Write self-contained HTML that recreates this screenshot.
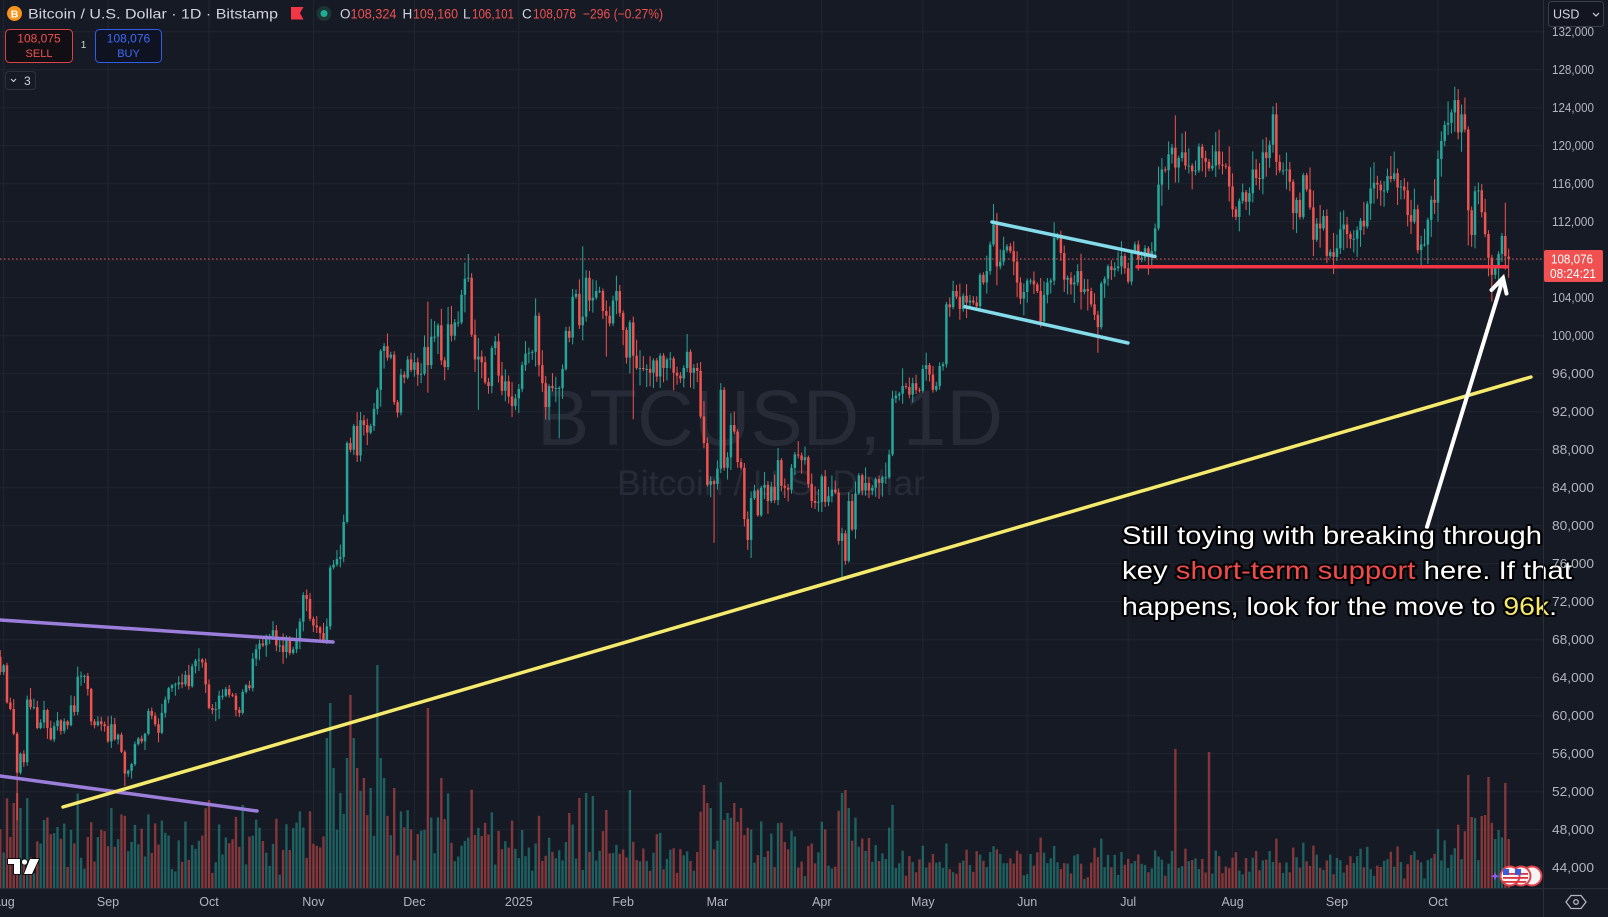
<!DOCTYPE html>
<html><head><meta charset="utf-8">
<style>
html,body{margin:0;padding:0;background:#161a25;width:1608px;height:917px;overflow:hidden}
svg{display:block}
</style></head><body>
<svg id="c" width="1608" height="917" xmlns="http://www.w3.org/2000/svg" font-family="Liberation Sans, sans-serif">
<rect width="1608" height="917" fill="#161a25"/>
<g id="grid"></g>
<text x="770" y="445" font-size="79" fill="#272b37" text-anchor="middle" textLength="466" lengthAdjust="spacingAndGlyphs">BTCUSD, 1D</text>
<text x="771" y="495" font-size="35.5" fill="#272b37" text-anchor="middle" textLength="308" lengthAdjust="spacingAndGlyphs">Bitcoin / U.S. Dollar</text>
<g id="vol"></g>
<g id="cand"></g>
<line x1="0" y1="259" x2="1543" y2="259" stroke="#ef5350" stroke-width="1" stroke-dasharray="1.5 2.5"/>
<g stroke-linecap="round" stroke-width="3.5" fill="none">
<line x1="0" y1="620" x2="333" y2="642" stroke="#9a7ed9"/>
<line x1="0" y1="776" x2="257" y2="811" stroke="#9a7ed9"/>
<line x1="63" y1="807" x2="1531" y2="377" stroke="#f5ea6c"/>
<line x1="992" y1="222" x2="1155" y2="256.5" stroke="#84dbe9"/>
<line x1="965" y1="306.7" x2="1128" y2="343" stroke="#84dbe9"/>
<line x1="1137" y1="266.7" x2="1507" y2="266.7" stroke="#f23645"/>
</g>
<g stroke="#ffffff" stroke-width="4" stroke-linecap="round" fill="none">
<line x1="1427" y1="527" x2="1503" y2="279"/>
<polyline points="1491.5,290 1503,278 1506.5,293.5"/>
</g>
<g font-size="25" stroke="#000" stroke-opacity="0.85" stroke-width="4" paint-order="stroke" stroke-linejoin="round" fill="#ffffff">
<text x="1122" y="544" textLength="420" lengthAdjust="spacingAndGlyphs">Still toying with breaking through</text>
<text x="1122" y="579" textLength="450" lengthAdjust="spacingAndGlyphs">key <tspan fill="#ef4b4b">short-term support</tspan> here. If that</text>
<text x="1122" y="615" textLength="435" lengthAdjust="spacingAndGlyphs">happens, look for the move to <tspan fill="#f6e86a">96k</tspan>.</text>
</g>
<line x1="1543.5" y1="0" x2="1543.5" y2="917" stroke="#2a2e39" stroke-width="1"/>
<line x1="0" y1="888.5" x2="1608" y2="888.5" stroke="#2a2e39" stroke-width="1"/>
<g id="plab" font-size="13" fill="#b2b5be"></g>
<g id="tlab" font-size="12.5" fill="#b2b5be" text-anchor="middle"></g>
<rect x="1548.5" y="1.5" width="55" height="25" rx="3" fill="#131620" stroke="#3a3e4a"/>
<text x="1553" y="18.5" font-size="12.5" fill="#d1d4dc">USD</text>
<path d="M1593 13l3 3 3-3" stroke="#d1d4dc" stroke-width="1.2" fill="none"/>
<rect x="1544" y="250" width="59" height="32" rx="2" fill="#f05050"/>
<text x="1551" y="263.5" font-size="12.5" fill="#fff" textLength="42" lengthAdjust="spacingAndGlyphs">108,076</text>
<text x="1550" y="278" font-size="12.5" fill="#fff" textLength="46" lengthAdjust="spacingAndGlyphs">08:24:21</text>
<path d="M1571 895.5l10 0 5 6.5-5 6.5-10 0-5-6.5z" fill="none" stroke="#b2b5be" stroke-width="1.3"/>
<circle cx="1576" cy="902" r="2.3" fill="none" stroke="#b2b5be" stroke-width="1.3"/>
<circle cx="14.5" cy="13.5" r="7.5" fill="#f7931a"/>
<text x="14.5" y="17.5" font-size="10.5" font-weight="bold" fill="#fff" text-anchor="middle">B</text>
<text x="28" y="18.5" font-size="14" fill="#d1d4dc" textLength="250" lengthAdjust="spacingAndGlyphs">Bitcoin / U.S. Dollar · 1D · Bitstamp</text>
<path d="M291 7h12.5l-3.5 6 3.5 6.5h-12.5z" fill="#f23645"/>
<circle cx="324" cy="13.5" r="7.5" fill="#1b3634"/>
<circle cx="324" cy="13.5" r="3.5" fill="#22ab94"/>
<g font-size="13.5">
<text x="340" y="18.5" fill="#d1d4dc">O</text>
<text x="350.5" y="18.5" fill="#f05050" textLength="46" lengthAdjust="spacingAndGlyphs">108,324</text>
<text x="402.5" y="18.5" fill="#d1d4dc">H</text>
<text x="413" y="18.5" fill="#f05050" textLength="45" lengthAdjust="spacingAndGlyphs">109,160</text>
<text x="463" y="18.5" fill="#d1d4dc">L</text>
<text x="472" y="18.5" fill="#f05050" textLength="42" lengthAdjust="spacingAndGlyphs">106,101</text>
<text x="522" y="18.5" fill="#d1d4dc">C</text>
<text x="533" y="18.5" fill="#f05050" textLength="43" lengthAdjust="spacingAndGlyphs">108,076</text>
<text x="583" y="18.5" fill="#f05050" textLength="80" lengthAdjust="spacingAndGlyphs">−296 (−0.27%)</text>
</g>
<rect x="5.5" y="29.5" width="67" height="33" rx="4" fill="#120f14" stroke="#d9434a"/>
<text x="39" y="42.5" font-size="12" fill="#f05050" text-anchor="middle">108,075</text>
<text x="39" y="57" font-size="11" fill="#f05050" text-anchor="middle">SELL</text>
<text x="83.5" y="48" font-size="10" fill="#d1d4dc" text-anchor="middle">1</text>
<rect x="95.5" y="29.5" width="66" height="33" rx="4" fill="#0f1220" stroke="#2f5fe8"/>
<text x="128.5" y="42.5" font-size="12" fill="#3c6cf5" text-anchor="middle">108,076</text>
<text x="128.5" y="57" font-size="11" fill="#3c6cf5" text-anchor="middle">BUY</text>
<rect x="5.5" y="71.5" width="30" height="18" rx="3" fill="#161a25" stroke="#2e323d"/>
<path d="M11 79l2.5 2.5 2.5-2.5" stroke="#d1d4dc" stroke-width="1.1" fill="none"/>
<text x="24" y="85" font-size="12" fill="#d1d4dc">3</text>
<g fill="#fff" stroke="#000" stroke-width="1.6" paint-order="stroke">
<path d="M8 859h12v15h-6v-10h-6z"/>
<circle cx="24.5" cy="862" r="2.6"/>
<path d="M30 859h9l-7 15h-8z"/>
</g>
<path d="M1495 872l1.2 3 3 1.2-3 1.2-1.2 3-1.2-3-3-1.2 3-1.2z" fill="#8b5cf6"/>
<g stroke="#e0434b" stroke-width="2">
<circle cx="1532" cy="876" r="9.5" fill="#f4f4f4"/>
<circle cx="1521" cy="876" r="9.5" fill="#f4f4f4"/>
<circle cx="1510" cy="876" r="9.5" fill="#f4f4f4"/>
</g>
<g fill="#d8363f">
<rect x="1503" y="873" width="14" height="1.8"/><rect x="1503" y="877" width="14" height="1.8"/><rect x="1503" y="881" width="12" height="1.8"/>
<rect x="1515" y="873" width="13" height="1.8"/><rect x="1515" y="877" width="13" height="1.8"/><rect x="1515" y="881" width="11" height="1.8"/>
</g>
<rect x="1503" y="869" width="6" height="6" fill="#3b5bdb"/>
<rect x="1515" y="869" width="6" height="6" fill="#3b5bdb"/>
</svg>
<script>
(function(){
var M=[
[64.6],
[65.3,61.4,60.7,58.1,54.0,56.0,55.1,61.7,60.9,60.9,58.7,59.3,60.6,58.7,57.5,58.9,59.5,58.4,59.4,59.0,61.1,60.4,64.1,64.2,64.2,62.8,59.4,59.0,59.4,59.1,58.9],
[57.3,59.1,57.5,58.0,56.2,53.9,54.2,54.9,57.0,57.6,57.3,58.1,60.5,60.0,59.1,58.2,60.3,61.7,62.9,63.2,63.3,63.5,63.3,64.3,63.1,65.2,65.8,65.9,65.6,63.3],
[60.8,60.6,60.7,62.1,62.1,62.8,62.2,62.1,60.6,60.3,62.5,63.2,62.9,66.0,67.0,67.6,67.4,68.4,68.4,69.0,67.4,67.4,66.7,68.2,66.6,67.0,68.0,69.9,72.7,72.3,70.2],
[69.5,69.3,68.7,67.8,69.4,75.6,75.9,76.5,76.7,80.4,88.7,88.0,90.5,87.4,91.1,90.6,89.8,90.5,92.3,94.3,98.4,98.9,97.7,98.0,93.0,91.9,95.9,95.6,97.5,96.4],
[97.2,95.9,96.0,98.8,96.9,99.9,99.9,101.1,97.4,96.7,101.2,100.0,101.4,101.4,104.3,106.0,106.1,100.1,97.5,97.8,97.2,95.1,94.7,98.7,99.4,95.8,94.2,95.2,93.6,92.6,93.4],
[94.4,96.9,98.1,98.2,98.3,102.1,96.9,95.0,92.5,94.7,94.5,94.5,94.5,96.5,100.5,99.8,104.1,104.4,101.1,102.0,106.1,103.7,104.0,104.7,104.7,102.6,102.1,101.3,103.7,104.7,102.4],
[100.6,97.7,101.4,97.9,96.6,96.6,96.5,96.5,96.1,97.4,95.7,97.9,96.6,97.5,97.6,96.1,95.8,95.5,96.6,98.3,96.1,96.6,96.3,91.5,88.7,84.3,84.7,84.4],
[86.0,94.3,86.1,87.2,90.6,89.9,86.7,86.1,80.7,78.5,82.9,83.7,81.1,84.0,84.3,82.6,84.1,82.7,86.9,84.2,84.0,83.8,86.1,87.5,87.4,86.9,87.2,84.4,82.6,82.4,82.5],
[85.2,82.5,83.1,83.8,83.5,78.4,79.2,76.3,82.6,79.6,83.4,85.3,83.7,84.5,83.7,84.0,84.9,84.5,85.1,85.1,87.5,93.4,93.7,93.9,94.7,94.6,93.8,95.0,94.3,94.2],
[96.5,96.9,95.9,94.3,94.7,96.8,97.0,103.3,103.0,104.7,104.1,102.8,104.2,103.5,103.7,103.5,103.1,106.4,105.6,106.8,109.6,111.7,107.3,107.8,109.0,109.4,108.9,107.8,105.6,103.9,104.6],
[105.8,105.8,105.4,104.7,101.5,104.3,105.6,105.8,110.3,110.3,108.7,105.9,106.1,105.4,105.6,106.8,104.6,104.9,104.7,103.3,102.2,100.9,105.5,106.0,107.3,106.9,107.1,107.3,108.4,107.1],
[105.7,108.8,109.6,108.0,108.2,109.2,108.3,108.9,111.3,115.9,117.5,117.4,119.1,119.8,117.7,118.7,119.3,117.9,117.9,117.3,117.4,119.9,118.7,118.3,117.6,117.9,119.4,118.0,117.9,117.8,115.7],
[113.3,112.5,114.2,115.1,114.1,115.0,117.5,116.6,116.5,119.3,118.7,120.1,123.3,118.3,117.4,117.4,117.5,116.2,112.9,114.3,112.5,116.9,115.4,113.5,110.1,111.8,111.3,112.6,108.4,108.8,108.3],
[109.2,111.2,111.7,110.7,110.2,110.2,111.1,112.1,111.5,113.9,115.5,116.1,115.9,115.3,115.3,116.8,116.5,117.1,115.6,115.7,115.3,112.7,112.0,113.3,109.0,109.6,109.6,112.2,114.3,114.0],
[118.6,120.5,122.2,122.4,123.5,124.8,121.4,123.3,121.7,113.2,110.6,115.2,115.3,113.0,110.7,108.2,106.4,107.2,108.6,110.5,108.372,108.076]
];
var C=[];M.forEach(function(a){C=C.concat(a);});
var OV={0:{o:66.2,h:66.9,l:64.3},5:{l:49.0,h:58.3},37:{l:52.6},127:{h:103.6,l:94.0},139:{h:108.6},142:{l:92.2},166:{l:89.2},173:{h:109.4,l:99.5},180:{l:97.8},188:{l:91.2},212:{l:78.2},214:{h:95.0},223:{l:76.6},250:{l:74.5},252:{h:83.5},326:{l:98.2},349:{h:123.2},379:{h:124.5},432:{h:126.2},436:{l:109.5},443:{l:103.6},447:{h:114.0},448:{o:108.324,h:109.16,l:106.101}};
var VO={4:85,5:95,6:80,8:90,97:150,98:185,99:120,101:95,104:193,105:150,106:120,108:110,110:100,112:223,113:130,114:110,117:100,127:180,131:110,169:75,172:90,174:95,176:92,180:78,187:98,209:103,210:85,211:80,216:75,218:85,220:80,250:95,251:98,252:80,349:139,359:136,436:113,437:71,438:70,440:72,441:73,442:111,444:49,445:58,447:105,448:49};
function rng(a){return function(){a|=0;a=a+0x6D2B79F5|0;var t=Math.imul(a^a>>>15,1|a);t=t+Math.imul(t^t>>>7,61|t)^t;return((t^t>>>14)>>>0)/4294967296;};}
var R=rng(987654);
function X(i){return 0.26+i*3.367;}
function Y(p){return 867.7-(p-44)*9.5;}
var cs='',vs='';
for(var i=0;i<C.length;i++){
  var c=C[i],o=i?C[i-1]:66.2,ov=OV[i]||{};
  if(ov.o!==undefined)o=ov.o;
  var r1=R(),r2=R(),r3=R();
  var hi=Math.max(o,c),lo=Math.min(o,c);
  var h=hi*(1+0.002+0.018*r1*r1),l=lo*(1-0.002-0.018*r2*r2);
  if(ov.h!==undefined)h=ov.h; if(ov.l!==undefined)l=ov.l;
  var up=c>=o,col=up?'#26a69a':'#ef5350',x=X(i);
  var yt=Y(hi),yb=Y(lo),bh=Math.max(1,yb-yt);
  cs+='<rect x="'+(x-0.5).toFixed(2)+'" y="'+Y(h).toFixed(2)+'" width="1" height="'+(Y(l)-Y(h)).toFixed(2)+'" fill="'+col+'"/>';
  cs+='<rect x="'+(x-1.25).toFixed(2)+'" y="'+yt.toFixed(2)+'" width="2.5" height="'+bh.toFixed(2)+'" fill="'+col+'"/>';
  var ret=Math.abs(c-o)/o;
  var vh=12+45*r3+800*ret;
  var f=1.0;
  if(i>=93&&i<154)f=1.15; else if(i>=154&&i<274)f=0.8; else if(i>=274&&i<427)f=0.62; else if(i>=427)f=0.95;
  vh*=f; if(vh>130)vh=130;
  if(VO[i]!==undefined)vh=VO[i];
  vs+='<rect x="'+(x-1.2).toFixed(2)+'" y="'+(888-vh).toFixed(2)+'" width="2.4" height="'+vh.toFixed(2)+'" fill="'+col+'" fill-opacity="0.5"/>';
}
document.getElementById('cand').innerHTML=cs;
document.getElementById('vol').innerHTML=vs;
var g='',pl='',tl='';
for(var k=0;k<=22;k++){
  var y=867.7-k*38;
  g+='<line x1="0" y1="'+y.toFixed(1)+'" x2="1543" y2="'+y.toFixed(1)+'" stroke="#21252f" stroke-width="1"/>';
  var v=44+k*4;
  pl+='<text x="1552" y="'+(y+4.5).toFixed(1)+'" textLength="42" lengthAdjust="spacingAndGlyphs">'+v+',000</text>';
}
var mi=[1,32,62,93,123,154,185,213,244,274,305,335,366,397,427];
var ml=['Aug','Sep','Oct','Nov','Dec','2025','Feb','Mar','Apr','May','Jun','Jul','Aug','Sep','Oct'];
for(var j=0;j<mi.length;j++){
  var xx=X(mi[j]);
  g+='<line x1="'+xx.toFixed(1)+'" y1="0" x2="'+xx.toFixed(1)+'" y2="888" stroke="#21252f" stroke-width="1"/>';
  tl+='<text x="'+xx.toFixed(1)+'" y="906">'+ml[j]+'</text>';
}
document.getElementById('grid').innerHTML=g;
document.getElementById('plab').innerHTML=pl;
document.getElementById('tlab').innerHTML=tl;
})();
</script>
</body></html>
